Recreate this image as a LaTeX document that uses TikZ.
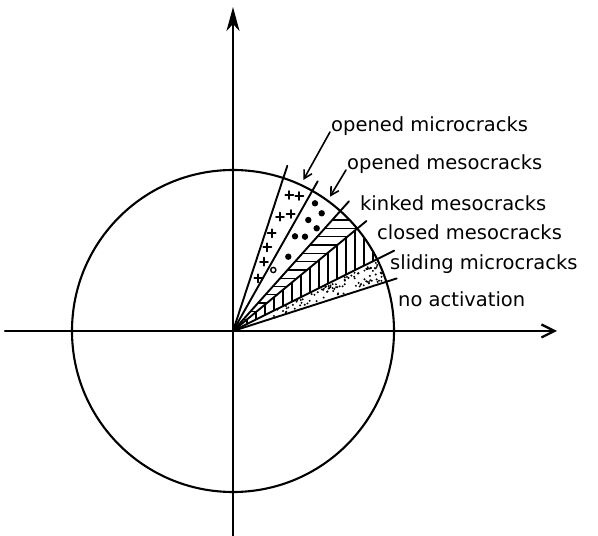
\documentclass[tikz,border=0pt]{standalone}
\usepackage{fontspec}
\setmainfont{DejaVu Sans}
\usetikzlibrary{arrows.meta, positioning}

\begin{document}
\begin{tikzpicture}[x=1pt, y=1pt, line cap=round,
  lbl/.style={font=\fontsize{19.5}{22}\selectfont, inner sep=0pt, anchor=base west},
  crack/.style={line width=1.9pt},
  hatch/.style={line width=1.3pt},
  leader/.style={line width=1.6pt, -{Straight Barb[length=8pt, width=9pt, line width=1.6pt]}}]
\useasboundingbox (-233,-205) rectangle (365,331);
\coordinate (O) at (0,0);

% kinked mesocracks: horizontal lines
\begin{scope}
\clip (O) -- (48.2:161pt) arc (48.2:39.5:161pt) -- cycle;
\foreach \y in {3,11.3,...,125} \draw[hatch] (0,\y) -- (161,\y);
\end{scope}
% closed mesocracks: vertical lines
\begin{scope}
\clip (O) -- (39.5:161pt) arc (39.5:26.5:161pt) -- cycle;
\foreach \x in {5,14,...,161} \draw[hatch] (\x,0) -- (\x,110);
\end{scope}
% sliding microcracks: fine dots
\begin{scope}
\clip (O) -- (26.5:161pt) arc (26.5:17.8:161pt) -- cycle;
\pgfmathsetseed{12}
\foreach \i in {1,...,95} {
  \pgfmathsetmacro{\r}{30+131*sqrt(rnd)}
  \pgfmathsetmacro{\a}{18.6+7.2*rnd}
  \fill (\a:\r pt) circle (1.1pt);
}
\end{scope}
% opened mesocracks: dots
\foreach \x/\y in {82/127.7, 88.7/117.7, 75.3/111, 83.7/102.7, 72/94.3, 62/94.7, 55.3/74.3}
  \fill (\x,\y) circle (3.2pt);
\draw[line width=1.4pt] (40.3,61) circle (2.6pt);
% opened microcracks: plus signs
\foreach \x/\y in {56.3/136, 66.3/135, 47/114.3, 57.7/117, 38.7/97.7, 34.3/83.7, 31/69.3, 25.3/52.7}
  \draw[line width=1.9pt] (\x,\y) +(-4,0) -- +(4,0) +(0,-4) -- +(0,4);

% circle, axes and rays
\draw[line width=2.1pt] (O) circle (161pt);
\draw[line width=2.3pt, -{Straight Barb[length=13pt, width=13pt, line width=2.3pt]}] (-228,0) -- (324,0);
\draw[line width=2.3pt, -{Stealth[length=24pt, width=13pt, inset=7pt]}] (0,-205) -- (0,324);
\foreach \a/\l in {71.8/174, 60.5/172, 48.2/174, 39.5/173, 26.5/180, 17.8/172}
  \draw[crack] (O) -- (\a:\l pt);

% labels
\node[lbl] (omicro) at (98,199) {opened microcracks};
\node[lbl] (omeso) at (114,161) {opened mesocracks};
\node[lbl] (kmeso) at (127,120) {kinked mesocracks};
\node[lbl] (cmeso) at (144,91) {closed mesocracks};
\node[lbl] (smicro) at (157,61) {sliding microcracks};
\node[lbl] (noact) at (165,24) {no activation};

\coordinate (tipmicro) at (70.3,151);
\coordinate (tipmeso) at (97,134.3);
\draw[leader] ([xshift=-1pt]omicro.base west) -- (tipmicro);
\draw[leader] ([xshift=-1pt]omeso.base west) -- (tipmeso);
\end{tikzpicture}
\end{document}
